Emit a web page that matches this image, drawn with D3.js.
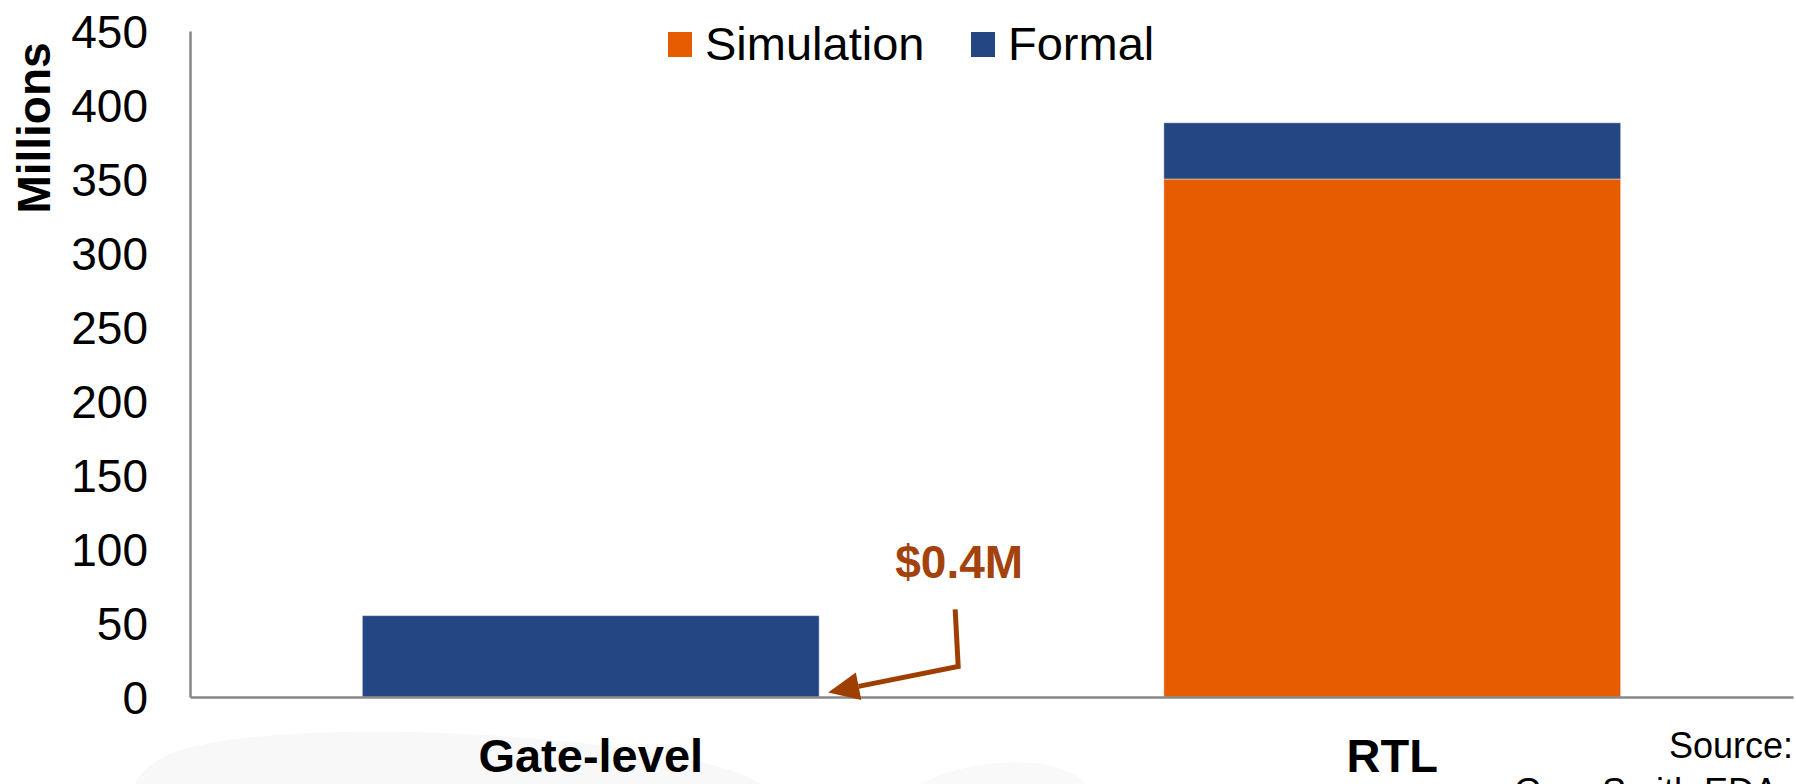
<!DOCTYPE html>
<html>
<head>
<meta charset="utf-8">
<script src="https://cdn.jsdelivr.net/npm/d3@7"></script>
<style>
  html, body { margin: 0; padding: 0; background: #ffffff; }
  svg { display: block; font-family: "Liberation Sans", Arial, sans-serif; }
</style>
</head>
<body>
<svg id="chart" width="1796" height="784"></svg>
<script>
// ---- Data ----
const categories = ["Gate-level", "RTL"];
const seriesNames = ["Simulation", "Formal"];
const simulationValues = [0, 350];
const formalValues = [55, 38];
const yTicks = [0, 50, 100, 150, 200, 250, 300, 350, 400, 450];
const annotationText = "$0.4M";
const annotationValue = 0.4;
const sourceLines = ["Source:", "Gary Smith EDA"];

// ---- Layout ----
const W = 1796, H = 784;
const plot = { left: 190, right: 1793, top: 31, bottom: 697 };
const colors = { Simulation: "#E65C00", Formal: "#244784" };
const annoColor = "#9E3F00";

const svg = d3.select("#chart");

// faint watermark shapes at the bottom
svg.append("path")
  .attr("d", "M135,784 C150,755 185,745 245,738 C340,728 470,730 600,745 C690,756 740,770 760,784 Z")
  .attr("fill", "#f8f8f8");
svg.append("path")
  .attr("d", "M920,784 C950,768 990,760 1035,763 C1065,768 1080,776 1085,784 Z")
  .attr("fill", "#f9f9f9");

const x = d3.scaleBand()
  .domain(categories)
  .range([plot.left, plot.right])
  .paddingInner(0.43)
  .paddingOuter(0.215);

const y = d3.scaleLinear()
  .domain([0, 450])
  .range([plot.bottom, plot.top]);

// stacked data
const rows = categories.map((c, i) => ({ category: c, Simulation: simulationValues[i], Formal: formalValues[i] }));
const stack = d3.stack().keys(seriesNames)(rows);

svg.append("g").selectAll("g")
  .data(stack)
  .join("g")
  .attr("fill", d => colors[d.key])
  .selectAll("rect")
  .data(d => d.filter(s => s[1] - s[0] > 0))
  .join("rect")
  .attr("x", d => x(d.data.category))
  .attr("width", x.bandwidth())
  .attr("y", d => y(d[1]))
  .attr("height", d => y(d[0]) - y(d[1]))
  .attr("stroke", "rgba(255,255,255,0.45)")
  .attr("stroke-width", 1);

// y axis
const yAxis = d3.axisLeft(y).tickValues(yTicks).tickSize(0).tickPadding(42);
const gy = svg.append("g").attr("transform", `translate(${plot.left},0)`).call(yAxis);
gy.select(".domain").attr("stroke", "#878787").attr("stroke-width", 2.5);
gy.selectAll(".tick text")
  .attr("font-size", 46)
  .attr("fill", "#000")
  .attr("font-family", "Liberation Sans, Arial, sans-serif")
  .attr("dy", "0.36em");

// x axis
const xAxis = d3.axisBottom(x).tickSize(0).tickPadding(42);
const gx = svg.append("g").attr("transform", `translate(0,${plot.bottom})`).call(xAxis);
gx.select(".domain").attr("stroke", "#878787").attr("stroke-width", 2.5);
gx.selectAll(".tick text")
  .attr("font-size", 47)
  .attr("font-weight", "bold")
  .attr("fill", "#000")
  .attr("font-family", "Liberation Sans, Arial, sans-serif")
  .attr("dy", "0.71em");

// y axis title
svg.append("text")
  .attr("transform", `translate(50,128) rotate(-90)`)
  .attr("text-anchor", "middle")
  .attr("font-size", 46)
  .attr("font-weight", "bold")
  .attr("fill", "#000")
  .text("Millions");

// legend
const legendX = [668, 971];
const legend = svg.append("g");
seriesNames.forEach((name, i) => {
  legend.append("rect")
    .attr("x", legendX[i]).attr("y", 32)
    .attr("width", 24).attr("height", 25)
    .attr("fill", colors[name]);
  legend.append("text")
    .attr("x", legendX[i] + 37).attr("y", 60)
    .attr("font-size", 47)
    .attr("fill", "#000")
    .text(name);
});

// annotation
const barRight = x("Gate-level") + x.bandwidth();
const tip = [barRight + 9, y(annotationValue) - 4];
const corner = [barRight + 139, y(annotationValue) - 30];
const start = [barRight + 136, y(annotationValue) - 87];
const ang = Math.atan2(corner[1] - tip[1], corner[0] - tip[0]);
const headLen = 31, headHalf = 14;
const base = [tip[0] + headLen * Math.cos(ang), tip[1] + headLen * Math.sin(ang)];
svg.append("path")
  .attr("d", d3.line()([start, corner, base]))
  .attr("fill", "none")
  .attr("stroke", annoColor)
  .attr("stroke-width", 5)
  .attr("stroke-linejoin", "miter");
svg.append("path")
  .attr("d", d3.line()([
    tip,
    [base[0] - headHalf * Math.sin(ang), base[1] + headHalf * Math.cos(ang)],
    [base[0] + headHalf * Math.sin(ang), base[1] - headHalf * Math.cos(ang)]
  ]) + "Z")
  .attr("fill", annoColor);
svg.append("text")
  .attr("x", barRight + 140).attr("y", y(annotationValue) - 118)
  .attr("text-anchor", "middle")
  .attr("font-size", 46)
  .attr("font-weight", "bold")
  .attr("fill", "#A3420C")
  .text(annotationText);

// source
svg.append("text")
  .attr("x", 1793).attr("y", 758)
  .attr("text-anchor", "end")
  .attr("font-size", 36)
  .attr("fill", "#000")
  .text(sourceLines[0]);
svg.append("text")
  .attr("x", 1514).attr("y", 804)
  .attr("font-size", 36)
  .attr("fill", "#000")
  .text(sourceLines[1]);
</script>
</body>
</html>
